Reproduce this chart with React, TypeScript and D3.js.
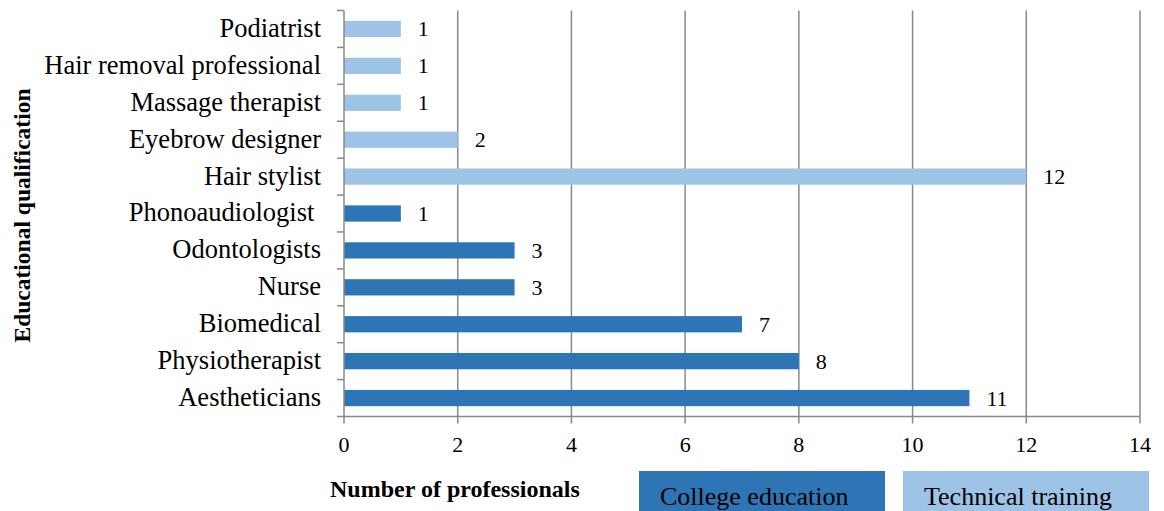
import React from "react";
import * as d3 from "d3";

const categories = [
  "Podiatrist",
  "Hair removal professional",
  "Massage therapist",
  "Eyebrow designer",
  "Hair stylist",
  "Phonoaudiologist ",
  "Odontologists",
  "Nurse",
  "Biomedical",
  "Physiotherapist",
  "Aestheticians",
];
const values = [1, 1, 1, 2, 12, 1, 3, 3, 7, 8, 11];
const groups = ["tech", "tech", "tech", "tech", "tech", "college", "college", "college", "college", "college", "college"];
const xTicks = [0, 2, 4, 6, 8, 10, 12, 14];
const legendItems = [
  { key: "college", label: "College education" },
  { key: "tech", label: "Technical training" },
];

const colors: Record<string, string> = { college: "#2E75B6", tech: "#9DC3E6" };
const FONT = "'Liberation Serif', 'Times New Roman', serif";

export default function App() {
  const W = 1164, H = 511;
  const left = 344, right = 1140, top = 10.5, bottom = 416.5;
  const x = d3.scaleLinear().domain([0, 14]).range([left, right]);
  const y = d3.scaleBand().domain(categories).range([top, bottom]).paddingInner(0.56).paddingOuter(0.28);
  const step = y.step();
  const boundaries = d3.range(categories.length + 1).map((i) => top + i * step);
  const axisColor = "#898989";

  return (
    <svg width={W} height={H} style={{ position: "absolute", left: 0, top: 0, background: "#fff" }} fontFamily={FONT}>
      <rect width={W} height={H} fill="#fff" />
      {xTicks.slice(1).map((t) => (
        <line key={"g" + t} x1={x(t)} x2={x(t)} y1={top} y2={bottom} stroke={axisColor} strokeWidth={1.5} />
      ))}
      {categories.map((c, i) => (
        <rect key={"b" + c} x={x(0)} y={y(c)!} width={x(values[i]) - x(0)} height={y.bandwidth()} fill={colors[groups[i]]} />
      ))}
      {categories.map((c, i) => (
        <text key={"v" + c} x={x(values[i]) + 17} y={y(c)! + y.bandwidth() / 2} dy="0.34em" fontSize={22} fill="#000">
          {values[i]}
        </text>
      ))}
      {/* y axis */}
      <line x1={left} x2={left} y1={top} y2={bottom} stroke={axisColor} strokeWidth={1.5} />
      {boundaries.map((b, i) => (
        <line key={"yt" + i} x1={left - 7} x2={left} y1={b} y2={b} stroke={axisColor} strokeWidth={1.5} />
      ))}
      {categories.map((c) => (
        <text key={"l" + c} x={321} y={y(c)! + y.bandwidth() / 2} dy="0.3em" textAnchor="end" fontSize={26.5} fill="#000" style={{ whiteSpace: "pre" }}>
          {c}
        </text>
      ))}
      {/* x axis */}
      <line x1={left} x2={right} y1={bottom} y2={bottom} stroke={axisColor} strokeWidth={1.5} />
      {xTicks.map((t) => (
        <g key={"xt" + t}>
          <line x1={x(t)} x2={x(t)} y1={bottom} y2={bottom + 7} stroke={axisColor} strokeWidth={1.5} />
          <text x={x(t)} y={452} textAnchor="middle" fontSize={22} fill="#000">{t}</text>
        </g>
      ))}
      <text x={330} y={497} fontSize={24} fontWeight="bold" fill="#000">Number of professionals</text>
      <text transform={`translate(30, ${(top + bottom) / 2 + 2}) rotate(-90)`} textAnchor="middle" fontSize={23.5} fontWeight="bold" fill="#000">
        Educational qualification
      </text>
      {/* legend */}
      {legendItems.map((l, i) => {
        const lx = i === 0 ? 639 : 903;
        return (
          <g key={l.key}>
            <rect x={lx} y={471} width={246} height={45} fill={colors[l.key]} />
            <text x={lx + 21} y={505} fontSize={26} fill="#000">{l.label}</text>
          </g>
        );
      })}
    </svg>
  );
}
